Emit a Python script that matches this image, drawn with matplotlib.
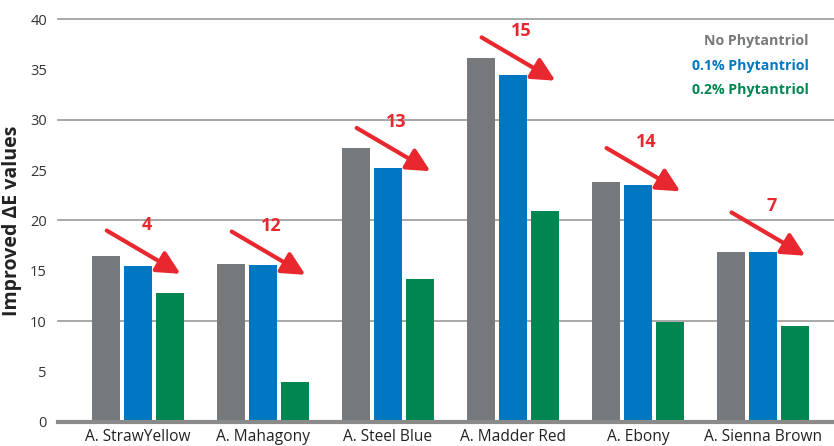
import matplotlib.pyplot as plt
import numpy as np

plt.rcParams['font.family'] = ['Open Sans', 'DejaVu Sans']

# Данные
categories = ['A. StrawYellow', 'A. Mahagony', 'A. Steel Blue',
              'A. Madder Red', 'A. Ebony', 'A. Sienna Brown']
no_phyt = [16.45, 15.7, 27.2, 36.2, 23.8, 16.9]
phyt_01 = [15.5, 15.6, 25.2, 34.5, 23.5, 16.9]
phyt_02 = [12.8, 3.95, 14.2, 20.9, 9.95, 9.5]
series_names = ['No Phytantriol', '0.1% Phytantriol', '0.2% Phytantriol']
colors = ['#76797b', '#0077c0', '#008651']

# Стрелки: начальная высота и подпись
arrow_start = [19.0, 18.9, 29.2, 38.2, 27.2, 20.8]
arrow_labels = ['4', '12', '13', '15', '14', '7']

red = '#e8282e'

fig = plt.figure(figsize=(8.34, 4.46), dpi=100)
ax = fig.add_axes([58 / 834, (446 - 421.7) / 446, 1 - 58 / 834, (421.7 - 19.3) / 446])

x = np.arange(len(categories))
step = 0.256
width = 0.224
for i, (vals, c) in enumerate(zip([no_phyt, phyt_01, phyt_02], colors)):
    ax.bar(x + (i - 1) * step, vals, width, color=c, zorder=2)

# Стрелки и подписи
for xi, ys, lab in zip(x, arrow_start, arrow_labels):
    ax.annotate('', xy=(xi + 0.34, ys - 4.3), xytext=(xi - 0.25, ys),
                arrowprops=dict(arrowstyle='-|>,head_length=1.4,head_width=0.7',
                                color=red, lw=3, shrinkA=0, shrinkB=0),
                zorder=3)
    ax.text(xi + 0.07, ys + 0.6, lab, color=red, fontsize=13,
            fontweight='bold', ha='center', va='center', zorder=3)

# Легенда текстом
for j, (name, c) in enumerate(zip(series_names, colors)):
    ax.text(0.967, 0.945 - j * 0.06, name, color=c, fontsize=10.2,
            fontweight='bold', ha='right', va='center', transform=ax.transAxes)

ax.set_xlim(-0.64, 5.57)
ax.set_ylim(0, 40)
ax.set_yticks(range(0, 41, 5))
ax.set_xticks(x)
ax.set_xticklabels(categories, fontsize=11.2, color='#222222')
ax.tick_params(axis='y', labelsize=10.5, colors='#333333', length=0, pad=8)
ax.tick_params(axis='x', length=0, pad=5)
for t in [10, 20, 30, 40]:
    ax.axhline(t, color='#999999', lw=1.2, zorder=1, clip_on=False)
ax.axhline(0, color='#8a8a8a', lw=3, zorder=4, clip_on=False)
for s in ax.spines.values():
    s.set_visible(False)
ax.set_ylabel('Improved ΔE values', fontsize=14, fontweight='bold', color='#222222', labelpad=6)

plt.savefig('out.png', dpi=100)
